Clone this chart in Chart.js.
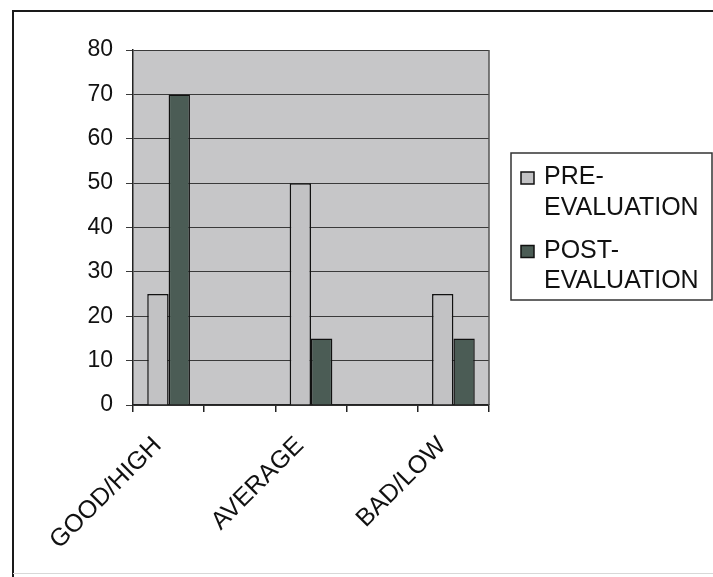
<!DOCTYPE html>
<html>
<head>
<meta charset="utf-8">
<script src="https://cdn.jsdelivr.net/npm/chart.js@4/dist/chart.umd.min.js"></script>
<style>
  html, body { margin: 0; padding: 0; background: #fff; }
  #wrap { width: 713px; height: 577px; position: relative; }
</style>
</head>
<body>
<div id="wrap"><canvas id="chart" width="713" height="577"></canvas></div>
<script>
// blank slots keep the spacing of the original axis (ticks between groups)
const categories = ['GOOD/HIGH', '', 'AVERAGE', '', 'BAD/LOW'];
const preEvaluation = [25, null, 50, null, 25];
const postEvaluation = [70, null, 15, null, 15];
const seriesNames = ['PRE-EVALUATION', 'POST-EVALUATION'];
const yTicks = [0, 10, 20, 30, 40, 50, 60, 70, 80];

const FONT = '"Liberation Sans", Arial, sans-serif';
const PLOT_BG = '#c6c6c8';
const PRE_COLOR = '#c2c2c4';
const POST_COLOR = '#4b5c55';

const framePlugin = {
  id: 'frame',
  beforeDraw(chart) {
    const { ctx, chartArea: a } = chart;
    ctx.save();
    ctx.fillStyle = '#fff';
    ctx.fillRect(0, 0, chart.width, chart.height);
    ctx.fillStyle = PLOT_BG;
    ctx.fillRect(a.left, a.top, a.right - a.left, a.bottom - a.top);
    // outer chart border
    ctx.strokeStyle = '#1a1a1a';
    ctx.lineWidth = 2;
    ctx.beginPath();
    ctx.moveTo(13, 577);
    ctx.lineTo(13, 11);
    ctx.lineTo(713, 11);
    ctx.stroke();
    ctx.strokeStyle = '#d8d8d8';
    ctx.lineWidth = 1;
    ctx.beginPath();
    ctx.moveTo(13, 573.5);
    ctx.lineTo(713, 573.5);
    ctx.stroke();
    ctx.restore();
  },
  beforeDatasetsDraw(chart) {
    const { ctx, chartArea: a } = chart;
    ctx.save();
    ctx.strokeStyle = '#555';
    ctx.lineWidth = 1.5;
    ctx.beginPath();
    ctx.moveTo(a.right, a.top);
    ctx.lineTo(a.right, a.bottom);
    ctx.stroke();
    ctx.restore();
  }
};

const legendBoxPlugin = {
  id: 'legendBox',
  afterDraw(chart) {
    const { ctx } = chart;
    const box = { x: 511, y: 153, w: 201, h: 147 };
    ctx.save();
    ctx.fillStyle = '#fff';
    ctx.fillRect(box.x, box.y, box.w, box.h);
    ctx.strokeStyle = '#333';
    ctx.lineWidth = 1.5;
    ctx.strokeRect(box.x, box.y, box.w, box.h);
    ctx.font = '25px ' + FONT;
    ctx.textBaseline = 'alphabetic';
    chart.data.datasets.forEach((ds, i) => {
      const base = 184 + i * 73.5;
      ctx.fillStyle = ds.backgroundColor;
      ctx.fillRect(521, base - 12, 13, 12);
      ctx.strokeStyle = '#111';
      ctx.lineWidth = 1.5;
      ctx.strokeRect(521, base - 12, 13, 12);
      ctx.fillStyle = '#111';
      const lines = ds.label.split(/(?<=-)/);
      lines.forEach((t, j) => ctx.fillText(t, 544, base + j * 30.5));
    });
    ctx.restore();
  }
};

new Chart(document.getElementById('chart'), {
  type: 'bar',
  data: {
    labels: categories,
    datasets: [
      {
        label: seriesNames[0],
        data: preEvaluation,
        backgroundColor: PRE_COLOR,
        borderColor: '#111',
        borderWidth: 1.5
      },
      {
        label: seriesNames[1],
        data: postEvaluation,
        backgroundColor: POST_COLOR,
        borderColor: '#111',
        borderWidth: 1.5
      }
    ]
  },
  options: {
    responsive: false,
    animation: false,
    categoryPercentage: 0.6,
    barPercentage: 1.0,
    layout: { padding: { left: 0, top: 50, right: 224, bottom: 0 } },
    plugins: {
      legend: { display: false },
      tooltip: { enabled: false },
      title: { display: false }
    },
    scales: {
      x: {
        afterFit: (scale) => { scale.height = 172; },
        grid: {
          offset: true,
          drawOnChartArea: false,
          drawTicks: true,
          tickLength: 7,
          color: '#222',
          lineWidth: 1.5
        },
        border: { color: '#222', width: 1.5 },
        ticks: {
          color: '#111',
          font: { family: FONT, size: 25 },
          minRotation: 45,
          maxRotation: 45,
          autoSkip: false,
          padding: 19,
          labelOffset: -11
        }
      },
      y: {
        min: 0,
        max: 80,
        afterFit: (scale) => { scale.width = 133; },
        afterBuildTicks: (scale) => { scale.ticks = yTicks.map(v => ({ value: v })); },
        grid: {
          color: '#3a3a3a',
          lineWidth: 1,
          tickLength: 7,
          drawTicks: true
        },
        border: { color: '#222', width: 1.5 },
        ticks: {
          color: '#111',
          font: { family: FONT, size: 23 },
          padding: 13
        }
      }
    }
  },
  plugins: [framePlugin, legendBoxPlugin]
});
</script>
</body>
</html>
